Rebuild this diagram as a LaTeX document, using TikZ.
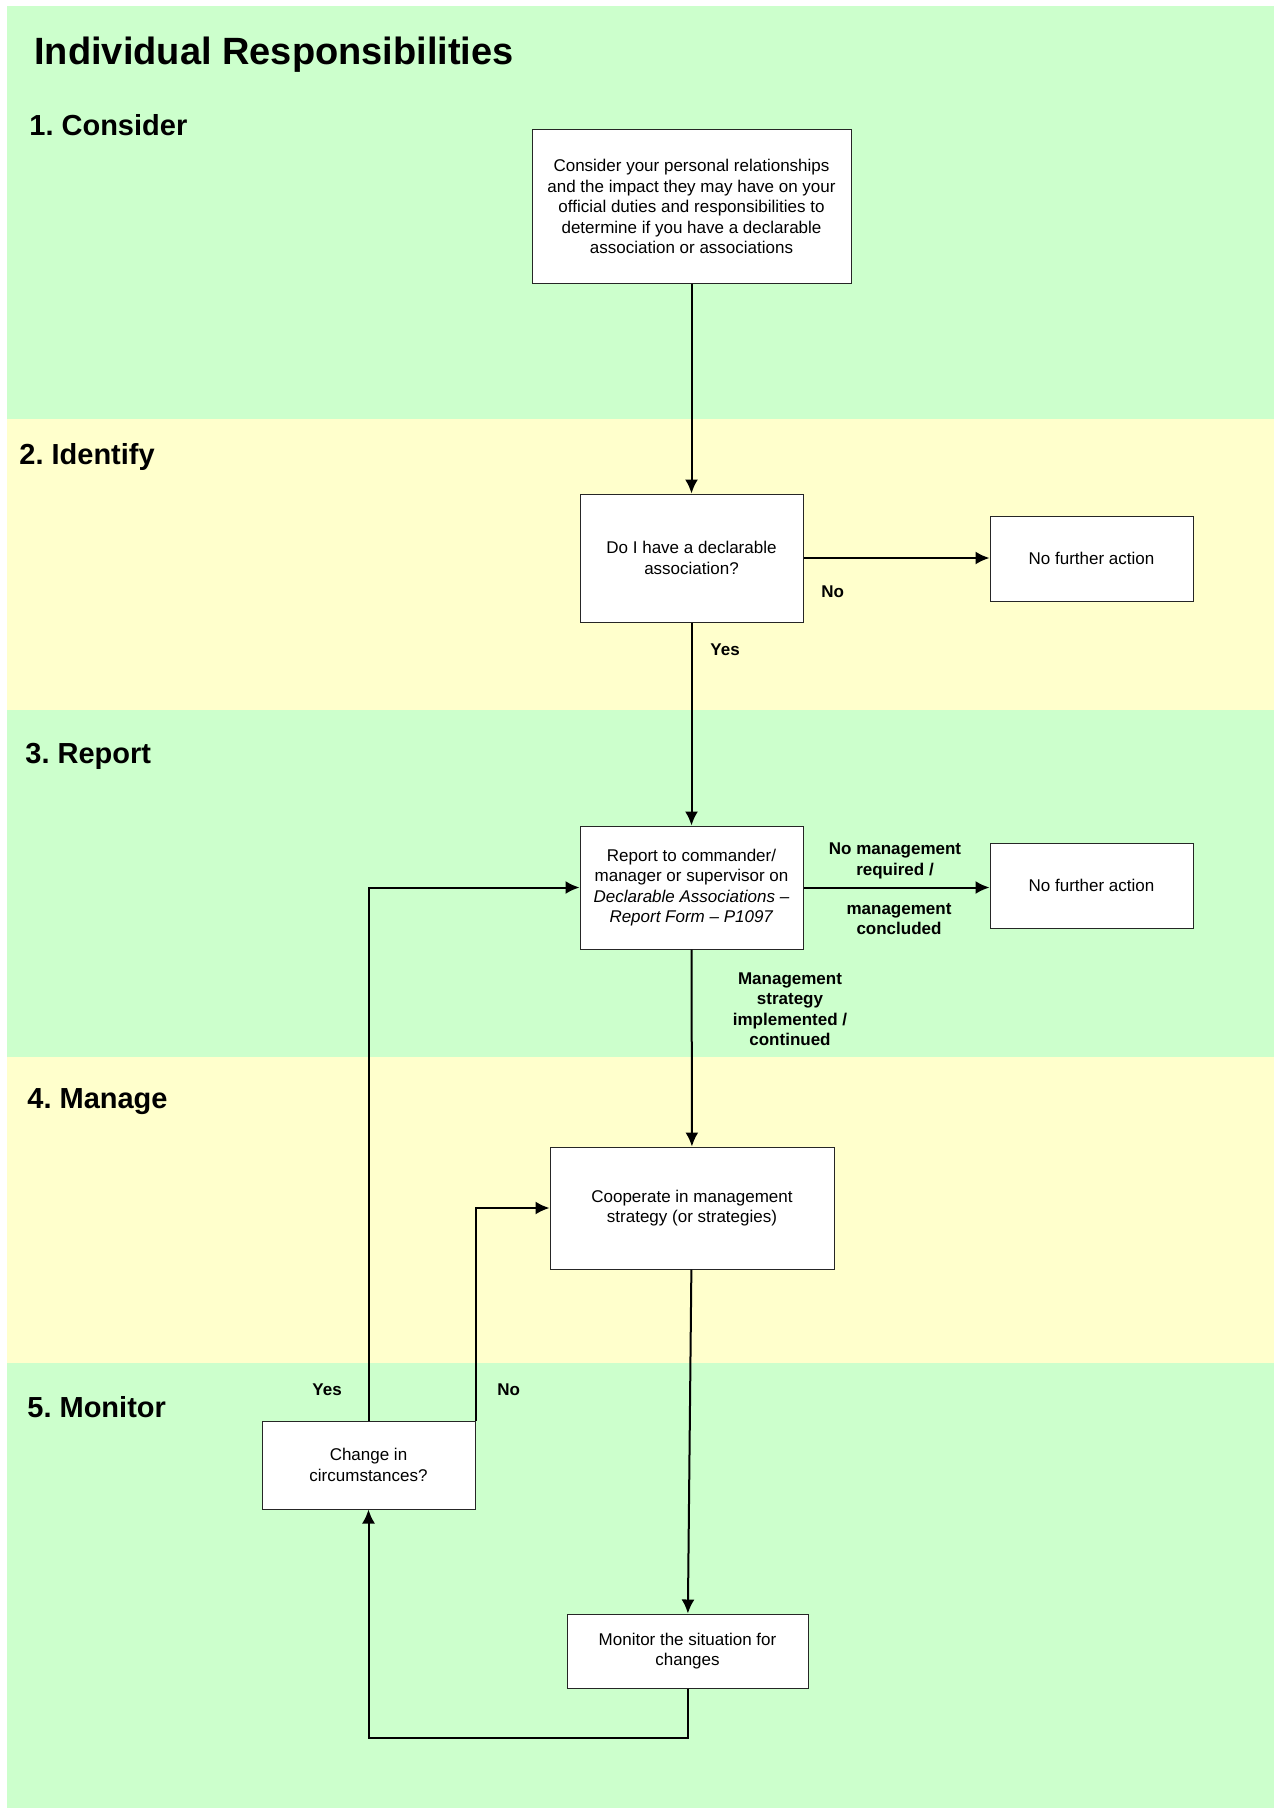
\documentclass[tikz,border=0pt]{standalone}
\usepackage{fontspec}
\setmainfont{Liberation Sans}
\usetikzlibrary{calc,positioning}
\usetikzlibrary{arrows,arrows.meta}
\definecolor{bandgreen}{HTML}{CCFFCC}
\definecolor{bandyellow}{HTML}{FFFFCC}
\frenchspacing

\begin{document}
\begin{tikzpicture}[x=0.5pt,y=-0.5pt]
  \tikzstyle{pnode} = [draw=black!85, line width=0.5pt, fill=white, rectangle, inner sep=2pt, align=center, font=\fontsize{8.5}{10.25}\selectfont]
  \tikzstyle{lnode} = [inner sep=0pt, align=center, font=\fontsize{8.5}{10.25}\selectfont\bfseries]
  \tikzstyle{hnode} = [inner sep=0pt, anchor=base west, font=\fontsize{14.5}{17}\selectfont\bfseries]
  \tikzstyle{conn} = [line width=1pt, -{Latex[length=7pt,width=6.5pt]}]

  \useasboundingbox (0,0) rectangle (1274,1809);

  % bands
  \fill[bandgreen] (7,6) rectangle (1274,419);
  \fill[bandyellow] (7,419) rectangle (1274,710);
  \fill[bandgreen] (7,710) rectangle (1274,1057);
  \fill[bandyellow] (7,1057) rectangle (1274,1363);
  \fill[bandgreen] (7,1363) rectangle (1274,1808);

  \node[hnode, font=\fontsize{19}{23}\selectfont\bfseries] (title) at (34,65) {Individual Responsibilities};
  \node[hnode] (consider-h) at (29,135) {1. Consider};
  \node[hnode] (identify-h) at (19,464) {2. Identify};
  \node[hnode] (report-h) at (25,763) {3. Report};
  \node[hnode] (manage-h) at (27,1108) {4. Manage};
  \node[hnode] (monitor-h) at (27,1417) {5. Monitor};

  \node[pnode, minimum width=159.5pt, minimum height=76.5pt] (consider) at (691.5,206.5)
    {Consider your personal relationships\\and the impact they may have on your\\official duties and responsibilities to\\determine if you have a declarable\\association or associations};
  \node[pnode, minimum width=111.5pt, minimum height=64pt] (declare) at (691.5,558) {Do I have a declarable\\association?};
  \node[pnode, minimum width=101.5pt, minimum height=42.5pt] (nfa1) at (1091.5,558.5) {No further action};
  \node[pnode, minimum width=111.5pt, minimum height=61.5pt] (report) at (691.5,887.5)
    {Report to commander/\\manager or supervisor on\\\textit{Declarable Associations --}\\\textit{Report Form -- P1097}};
  \node[pnode, minimum width=101.5pt, minimum height=42.5pt] (nfa2) at (1091.5,885.5) {No further action};
  \node[pnode, minimum width=142pt, minimum height=61pt] (coop) at (692,1208) {Cooperate in management\\strategy (or strategies)};
  \node[pnode, minimum width=106.5pt, minimum height=44pt] (change) at (368.5,1465) {Change in\\circumstances?};
  \node[pnode, minimum width=120.5pt, minimum height=37pt] (monitor) at (687.5,1651) {Monitor the situation for\\changes};

  \node[lnode, anchor=base west] (no1) at (821,597) {No};
  \node[lnode, anchor=base west] (yes1) at (710,655) {Yes};
  \node[lnode] (nomgmt) at (895,861) {No management\\required /};
  \node[lnode] (concluded) at (899,919) {management\\concluded};
  \node[lnode] (strategy) at (790,1009) {Management\\strategy\\implemented /\\continued};
  \node[lnode, anchor=base west] (yes2) at (312,1395) {Yes};
  \node[lnode, anchor=base west] (no2) at (497,1395) {No};

  % connections
  \draw[conn] (consider) -- (declare);
  \draw[conn] (declare.east) -- (declare.east -| nfa1.west);
  \draw[conn] (declare) -- (report);
  \draw[conn] (report.east) -- (report.east -| nfa2.west);
  \draw[conn] (report) -- (coop);
  \draw[conn] (coop) -- (monitor);
  \draw[conn] (monitor.south) -- ++(0,49) -| (change.south);
  \draw[conn] (change.north) |- (report.west);
  \draw[conn] (change.north east) |- (coop.west);
\end{tikzpicture}
\end{document}
